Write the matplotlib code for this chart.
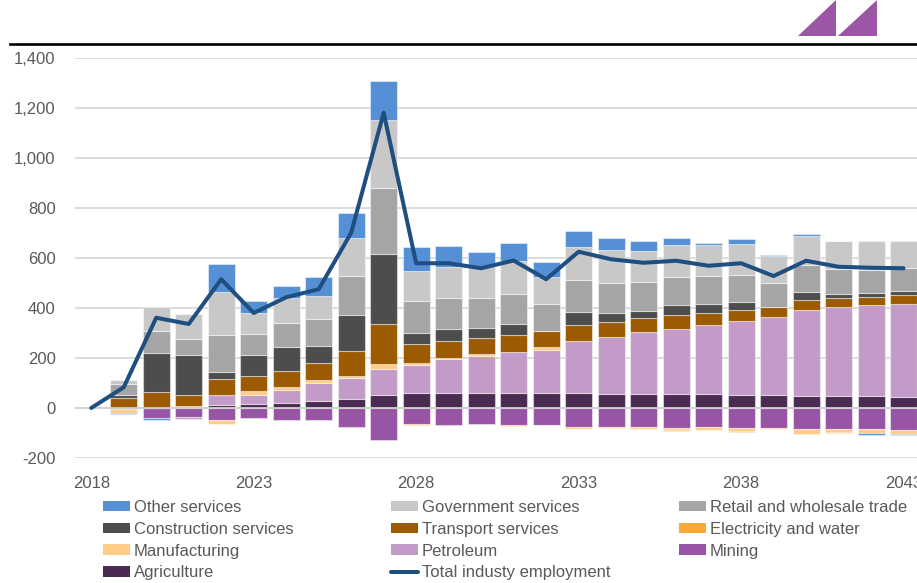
import matplotlib
matplotlib.use("Agg")
import matplotlib.pyplot as plt
from matplotlib.lines import Line2D
from matplotlib.patches import Patch, Polygon
import numpy as np

plt.rcParams['font.family'] = ['Liberation Sans', 'DejaVu Sans']

years = list(range(2018, 2044))

# employment change by industry (positive and negative values stack separately)
agriculture = [0, 0, 0, 0, 11, 17, 20, 29, 36, 51, 59, 59, 59, 59, 59, 59,
               57, 57, 57, 55, 53, 53, 49, 48, 48, 45]
mining = [0, -3, -40, -37, -47, -40, -47, -49, -76, -129, -64, -67, -64, -69, -67, -77,
          -76, -75, -79, -76, -80, -79, -85, -83, -84, -87]
petroleum = [0, 0, 0, -7, 40, 37, 53, 71, 84, 107, 113, 137, 151, 165, 173, 209,
             228, 248, 260, 277, 295, 312, 343, 356, 364, 371]
manufacturing = [0, -17, 0, 9, -15, 16, 12, 11, 9, 19, 8, 3, 5, 2, 13, -5,
                 -5, -8, -8, -11, -13, -4, -19, -14, -15, -17]
electricity = [0, 0, 0, 0, 0, 0, 0, 0, 0, 0, -3, 0, 0, -3, -2, -2,
               0, 0, -3, 0, -3, 0, 0, -3, 0, 0]
transport = [0, 39, 64, 44, 67, 57, 63, 69, 99, 161, 75, 71, 64, 65, 63, 64,
             60, 54, 54, 49, 43, 40, 39, 35, 33, 36]
construction = [0, 15, 156, 160, 25, 84, 97, 69, 143, 277, 44, 45, 40, 45, 0, 52,
                36, 29, 41, 36, 34, 0, 34, 17, 16, 15]
retail = [0, 44, 87, 65, 148, 87, 97, 109, 156, 264, 128, 124, 120, 121, 109, 127,
          120, 116, 113, 112, 108, 96, 106, 101, 91, 94]
government = [0, 16, 99, 99, 173, 83, 97, 91, 153, 275, 123, 125, 124, 132, 109, 135,
              131, 125, 128, 122, 124, 107, 118, 111, 116, 108]
other_services = [0, -5, -7, 0, 113, 47, 49, 75, 101, 156, 96, 83, 61, 73, 60, 63,
                  47, 39, 27, 8, 19, 4, 6, 0, -7, -5]
total = [0, 83, 361, 336, 515, 380, 443, 475, 701, 1181, 579, 579, 559, 590, 515, 625,
         595, 581, 589, 569, 579, 528, 589, 565, 561, 559]

# stacking order, bottom to top
series = [
    ('Agriculture', agriculture, '#4A2C52'),
    ('Mining', mining, '#9955A5'),
    ('Petroleum', petroleum, '#C39BC8'),
    ('Manufacturing', manufacturing, '#FFCC88'),
    ('Electricity and water', electricity, '#F9A838'),
    ('Transport services', transport, '#9C5B00'),
    ('Construction services', construction, '#4D4D4D'),
    ('Retail and wholesale trade', retail, '#A5A5A5'),
    ('Government services', government, '#C8C8C8'),
    ('Other services', other_services, '#5590D6'),
]
line_color = '#1F4E80'
text_color = '#595959'

W, H = 917, 583
fig = plt.figure(figsize=(W / 100, H / 100), dpi=100)
x_left, x_right = 75, 919.8
y_top, y_bot = 58, 458
ax = fig.add_axes([x_left / W, 1 - y_bot / H, (x_right - x_left) / W, (y_bot - y_top) / H])

x = np.array(years)
pos_base = np.zeros(len(years))
neg_base = np.zeros(len(years))
handles = {}
for name, vals, col in series:
    v = np.array(vals, dtype=float)
    bottom = np.where(v >= 0, pos_base, neg_base)
    ax.bar(x, v, 0.83, bottom=bottom, color=col, edgecolor=(1, 1, 1, 0.45),
           linewidth=0.8, zorder=2)
    pos_base += np.clip(v, 0, None)
    neg_base += np.clip(v, None, 0)
    handles[name] = Patch(facecolor=col, edgecolor='none')

ax.plot(x, total, color=line_color, lw=2.9, solid_joinstyle='round',
        solid_capstyle='round', zorder=4)
handles['Total industy employment'] = Line2D([], [], color=line_color, lw=2.9,
                                             solid_capstyle='round')

ax.set_xlim(2017.5, 2043.5)
ax.set_ylim(-200, 1400)
ax.set_yticks(range(-200, 1401, 200))
ax.yaxis.set_major_formatter(matplotlib.ticker.FuncFormatter(lambda v, p: f'{int(v):,}'))
ax.set_xticks(range(2018, 2044, 5))
ax.tick_params(axis='both', length=0, labelsize=12, labelcolor=text_color)
ax.tick_params(axis='y', pad=14)
ax.tick_params(axis='x', pad=13)
for s in ax.spines.values():
    s.set_visible(False)
ax.grid(axis='y', color='#D9D9D9', lw=1.3, zorder=0)
ax.axhline(0, color='#D0D0D0', lw=1.3, zorder=3)
ax.set_axisbelow(True)

# header rule and corner mark
fig.add_artist(Line2D([10 / W, 1], [1 - 43.5 / H] * 2, color='black', lw=1.9))
for xa, xb in [(798, 836), (838, 877)]:
    tri = Polygon([(xa / W, 1 - 36 / H), (xb / W, 1 - 36 / H), (xb / W, 1)],
                  closed=True, facecolor='#9B57A5', edgecolor='none')
    fig.add_artist(tri)

# legend in three fixed-width columns
columns = [
    (103, ['Other services', 'Construction services', 'Manufacturing', 'Agriculture']),
    (391, ['Government services', 'Transport services', 'Petroleum',
           'Total industy employment']),
    (679, ['Retail and wholesale trade', 'Electricity and water', 'Mining']),
]
for cx, names in columns:
    leg = fig.legend([handles[n] for n in names], names, loc='upper left',
                     bbox_to_anchor=(cx / W, 1 - 500 / H), frameon=False,
                     fontsize=12, labelcolor=text_color, handlelength=1.6,
                     handleheight=0.6, handletextpad=0.25, labelspacing=0.41,
                     borderpad=0, borderaxespad=0)

fig.savefig('out.png', dpi=100)
